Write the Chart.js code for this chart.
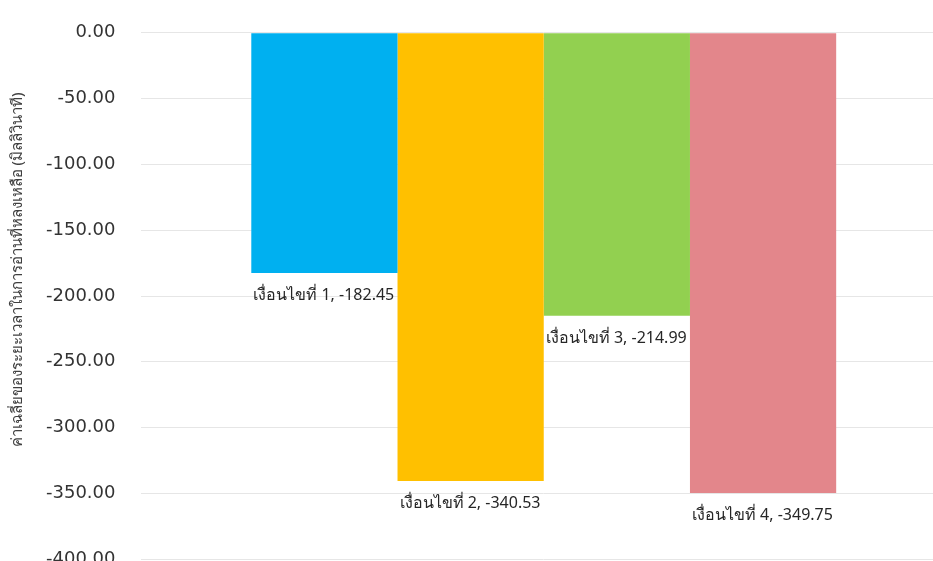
<!DOCTYPE html>
<html>
<head>
<meta charset="utf-8">
<script src="https://cdn.jsdelivr.net/npm/chart.js@4"></script>
<style>
  html, body { margin: 0; padding: 0; background: #fff; overflow: hidden; }
  #wrap { position: absolute; left: 0; top: -4px; width: 950px; height: 600px; }
</style>
</head>
<body>
<div id="wrap"><canvas id="grafica"></canvas></div>
<script>
// datos de la gráfica
const condiciones = ["เงื่อนไขที่ 1", "เงื่อนไขที่ 2", "เงื่อนไขที่ 3", "เงื่อนไขที่ 4"];
const promedios = [-182.45, -340.53, -214.99, -349.75];
const colores = ["#00B0F0", "#FFC000", "#92D050", "#E3868B"];
const ejeMin = -400;
const ejeMax = 0;
const ejePaso = 50;
const tituloY = "ค่าเฉลี่ยของระยะเวลาในการอ่านที่หลงเหลือ (มิลลิวินาที)";

const FUENTE_TH = "Tahoma, 'Noto Sans', 'DejaVu Sans', sans-serif";

// etiquetas debajo de cada barra, alineadas a la izquierda
const etiquetasBarras = {
    id: "etiquetasBarras",
    afterDatasetsDraw(chart) {
        const ctx = chart.ctx;
        ctx.save();
        ctx.font = "16px " + FUENTE_TH;
        ctx.fillStyle = "#262626";
        ctx.textAlign = "left";
        ctx.textBaseline = "alphabetic";
        chart.data.datasets.forEach((ds, i) => {
            const bar = chart.getDatasetMeta(i).data[0];
            const izq = bar.x - bar.width / 2;
            ctx.fillText(`${ds.label}, ${ds.data[0].toFixed(2)}`, izq + 2, bar.y + 27);
        });
        ctx.restore();
    }
};

// título del eje Y (un poco por encima del centro, como en el original)
const tituloEjeY = {
    id: "tituloEjeY",
    afterDraw(chart) {
        const ctx = chart.ctx;
        ctx.save();
        ctx.translate(18, 274);
        ctx.rotate(-Math.PI / 2);
        ctx.font = "15px " + FUENTE_TH;
        ctx.fillStyle = "#404040";
        ctx.textAlign = "center";
        ctx.textBaseline = "middle";
        ctx.fillText(tituloY, 0, 0);
        ctx.restore();
    }
};

const datasets = condiciones.map((c, i) => ({
    label: c,
    data: [promedios[i]],
    backgroundColor: colores[i],
    borderWidth: 0
}));

new Chart(document.getElementById("grafica"), {
    type: "bar",
    data: { labels: [""], datasets: datasets },
    options: {
        responsive: true,
        maintainAspectRatio: false,
        animation: false,
        layout: { padding: { top: 7, right: 4, bottom: 0, left: 20 } },
        datasets: { bar: { categoryPercentage: 0.727, barPercentage: 1.0 } },
        plugins: { legend: { display: false }, tooltip: { enabled: false } },
        scales: {
            x: { display: false },
            y: {
                min: ejeMin,
                max: ejeMax,
                ticks: {
                    stepSize: ejePaso,
                    padding: 26,
                    color: "#333",
                    font: { family: "'DejaVu Sans', sans-serif", size: 18 },
                    callback: v => Number(v).toFixed(2)
                },
                grid: { color: "#e6e6e6", drawTicks: false },
                border: { display: false }
            }
        }
    },
    plugins: [etiquetasBarras, tituloEjeY]
});
</script>
</body>
</html>
